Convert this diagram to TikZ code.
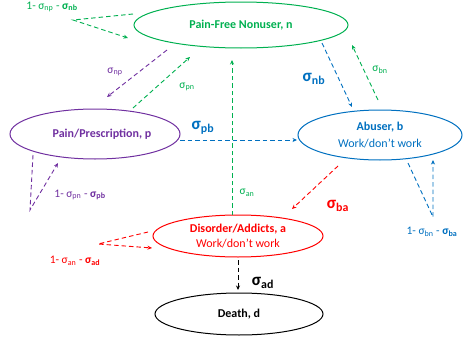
\documentclass[tikz,border=0pt]{standalone}
\usepackage{fontspec}
\setmainfont{Carlito}
\usetikzlibrary{arrows.meta,shapes.geometric}
\definecolor{cgreen}{RGB}{0,176,80}
\definecolor{cpurple}{RGB}{112,48,160}
\definecolor{cblue}{RGB}{0,112,192}
\definecolor{cred}{RGB}{255,0,0}
\newcommand{\sg}[1]{σ\textsubscript{#1}}
\newcommand{\sgb}[1]{\textbf{σ\textsubscript{#1}}}
\tikzset{
  state/.style={ellipse, draw, line width=1pt, inner sep=0pt, font=\fontsize{12}{14}\selectfont, align=center},
  flow/.style={line width=0.9pt, dash pattern=on 4.5pt off 3pt, -{Stealth[length=4.5pt,width=4pt]}},
  small/.style={font=\fontsize{11.5}{13}\selectfont, inner sep=0pt},
  big/.style={font=\fontsize{17}{19}\selectfont\bfseries, inner sep=0pt},
}
\begin{document}
\begin{tikzpicture}[x=1pt,y=-1pt]
\useasboundingbox (0,0) rectangle (464,343);
% states
\node[state, draw=cgreen, text=cgreen, minimum width=214pt, minimum height=46pt] (n) at (241,25) {\textbf{Pain-Free Nonuser, n}};
\node[state, draw=cpurple, text=cpurple, minimum width=170pt, minimum height=50pt] (p) at (95,134) {\hspace*{14pt}\textbf{Pain/Prescription, p}};
\node[state, draw=cblue, text=cblue, minimum width=164pt, minimum height=50pt] (b) at (380,135) {\textbf{Abuser, b}\\[3pt]Work/don’t work};
\node[state, draw=cred, text=cred, minimum width=170pt, minimum height=42pt] (a) at (238,236) {\textbf{Disorder/Addicts,\ a}\\[1pt]Work/don’t work};
\node[state, draw=black, text=black, minimum width=168pt, minimum height=42pt] (d) at (239,314) {\textbf{Death, d}};
% free corner points of self loops
\coordinate (nc) at ([shift={(-168,-5)}]n.center);
\coordinate (pc) at ([shift={(-65,76)}]p.center);
\coordinate (bc) at ([shift={(53,82)}]b.center);
\coordinate (ac) at ([shift={(-140,8)}]a.center);
% self loops
\draw[flow, cgreen] ([shift={(-108,-11)}]n.center) -- (nc) -- ([shift={(-113,13)}]n.center);
\draw[flow, cpurple] ([shift={(-62,21)}]p.center) -- (pc) -- ([shift={(-37,29)}]p.center);
\draw[flow, cblue] ([shift={(28,28)}]b.center) -- (bc) -- ([shift={(53,25)}]b.center);
\draw[flow, cred] ([shift={(-90,-4)}]a.center) -- (ac) -- ([shift={(-86,12)}]a.center);
% transitions
\draw[flow, cpurple] ([shift={(-74,25)}]n.center) -- ([shift={(12,-37)}]p.center);
\draw[flow, cgreen] ([shift={(38,-26)}]p.center) -- ([shift={(-51,32)}]n.center);
\draw[flow, cgreen] ([shift={(-6,-21)}]a.center) -- ([shift={(-9,35)}]n.center);
\draw[flow, cblue] ([shift={(81,18)}]n.center) -- ([shift={(-28,-28)}]b.center);
\draw[flow, cgreen] ([shift={(-2,-35)}]b.center) -- ([shift={(111,20)}]n.center);
\draw[flow, cblue] ([shift={(85,6)}]p.center) -- ([shift={(-83,5)}]b.center);
\draw[flow, cred] ([shift={(-42,31)}]b.center) -- ([shift={(54,-27)}]a.center);
\draw[flow, black] ([shift={(0,24)}]a.center) -- ([shift={(-1,-24)}]d.center);
% labels
\node[small, text=cgreen] (lnn) at (52,7) {1- \sg{np} -\ \sgb{nb}};
\node[small, text=cpurple] (lnp) at (115,72) {\sg{np}};
\node[small, text=cgreen] (lpn) at (187,87) {\sg{pn}};
\node[small, text=cgreen] (lan) at (247,193) {\sg{an}};
\node[small, text=cgreen] (lbn) at (380,70) {\sg{bn}};
\node[big, text=cblue] (lnb) at (314,79) {σ\textsubscript{nb}};
\node[big, text=cblue] (lpb) at (203,128) {σ\textsubscript{pb}};
\node[big, text=cred] (lba) at (338,206) {σ\textsubscript{ba}};
\node[big, text=black] (lad) at (263,283) {σ\textsubscript{ad}};
\node[small, text=cblue] (lbb) at (432,232) {1- \sg{bn} -\ \sgb{ba}};
\node[small, text=cpurple] (lpp) at (80,195) {1- \sg{pn} -\ \sgb{pb}};
\node[small, text=cred] (laa) at (75,261) {1- \sg{an} -\ \sgb{ad}};
\end{tikzpicture}
\end{document}
